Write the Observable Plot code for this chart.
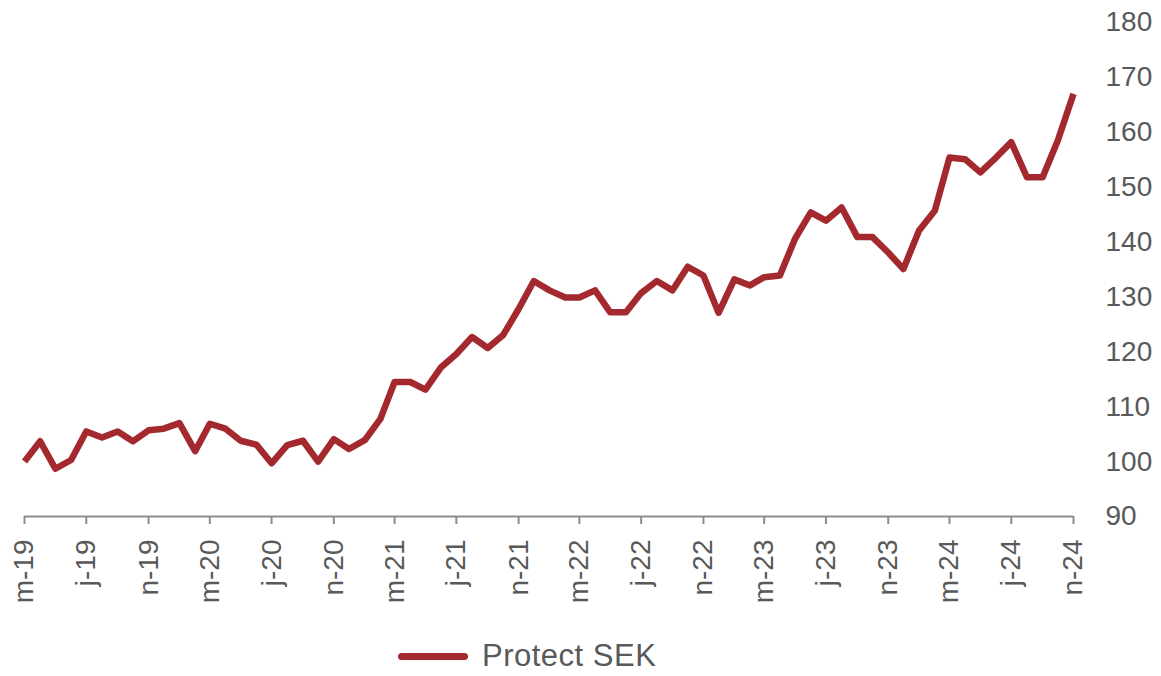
<!DOCTYPE html>
<html>
<head>
<meta charset="utf-8">
<script src="https://cdn.jsdelivr.net/npm/d3@7"></script>
<script src="https://cdn.jsdelivr.net/npm/@observablehq/plot@0.6"></script>
<style>
  body { margin: 0; background: #fff; font-family: "Liberation Sans", Arial, sans-serif; overflow: hidden; }
  #chart { width: 1161px; position: relative; height: 676px; }
  .legend { position: absolute; left: 398px; top: 638px; height: 36px; line-height: 36px; display: flex; align-items: center; color: #595959; font-size: 31px; white-space: nowrap; }
  .legend .sw { width: 70px; height: 7px; border-radius: 4px; background: #a4292e; margin-right: 14px; }
  .legend span { letter-spacing: 0.5px; }
</style>
</head>
<body>
<div id="chart"></div>
<script>
// Monthly series, March 2019 .. November 2024
const startYear = 2019, startMonth = 2; // March (0-based)
const values = [
  100.0, 103.7, 98.7, 100.3, 105.5, 104.4, 105.5, 103.7, 105.7, 106.0,
  107.0, 101.9, 106.9, 106.0, 103.8, 103.1, 99.7, 103.0, 103.8, 100.0, 104.1, 102.3,
  103.9, 107.8, 114.5, 114.5, 113.1, 117.2, 119.6, 122.7, 120.7, 123.0, 127.8, 132.9,
  131.2, 129.9, 129.9, 131.2, 127.2, 127.2, 130.7, 132.9, 131.2, 135.5, 133.9, 127.1,
  133.2, 132.1, 133.6, 133.9, 140.6, 145.4, 143.9, 146.3, 140.9, 140.9, 138.1, 135.1,
  142.1, 145.7, 155.4, 155.1, 152.7, 155.4, 158.2, 151.8, 151.8, 158.5, 167.0
];
const seriesName = "Protect SEK";
const yTicks = [90, 100, 110, 120, 130, 140, 150, 160, 170, 180];
const monthLetters = ["j","f","m","a","m","j","j","a","s","o","n","d"];

const data = values.map((v, i) => ({
  date: new Date(Date.UTC(startYear, startMonth + i, 1)),
  value: v
}));
const xTicks = data.filter((d, i) => i % 4 === 0).map(d => d.date);
const fmt = d => monthLetters[d.getUTCMonth()] + "-" + String(d.getUTCFullYear()).slice(2);

const chart = Plot.plot({
  width: 1161,
  height: 620,
  marginLeft: 24,
  marginRight: 88,
  marginTop: 22,
  marginBottom: 104,
  style: { fontFamily: "Liberation Sans, Arial, sans-serif", fontSize: "28px", color: "#595959", background: "#fff" },
  x: { type: "utc", domain: [data[0].date, data[data.length - 1].date] },
  y: { domain: [90, 180] },
  marks: [
    Plot.axisY({ anchor: "right", ticks: yTicks, tickSize: 0, tickPadding: 32, label: null, fontSize: 28, fill: "#595959" }),
    Plot.axisX({ ticks: xTicks, tickFormat: fmt, tickSize: 8, tickPadding: 15, tickRotate: -90, label: null, fontSize: 28, fill: "#595959", stroke: "#8c8c8c", strokeWidth: 2 }),
    Plot.ruleY([90], { stroke: "#8c8c8c", strokeWidth: 2 }),
    Plot.lineY(data, { x: "date", y: "value", stroke: "#a4292e", strokeWidth: 6.5, strokeLinejoin: "round", strokeLinecap: "butt" })
  ]
});
document.getElementById("chart").appendChild(chart);

const legend = document.createElement("div");
legend.className = "legend";
legend.innerHTML = '<div class="sw"></div><span></span>';
legend.querySelector("span").textContent = seriesName;
document.getElementById("chart").appendChild(legend);
</script>
</body>
</html>
